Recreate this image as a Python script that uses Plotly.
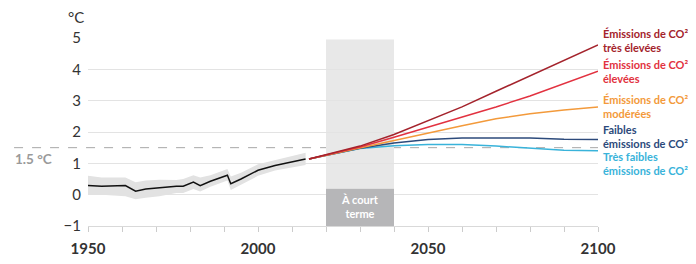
import plotly.graph_objects as go

# Historical observations
hist_years = [1950, 1954, 1961, 1964, 1967, 1971, 1976, 1978, 1981, 1983, 1986, 1991, 1992, 1995, 2000, 2005, 2010, 2014]
hist_vals = [0.29, 0.27, 0.29, 0.11, 0.18, 0.23, 0.27, 0.27, 0.40, 0.29, 0.43, 0.62, 0.35, 0.50, 0.78, 0.93, 1.04, 1.14]
hist_upper = [0.60, 0.55, 0.55, 0.40, 0.45, 0.48, 0.47, 0.50, 0.62, 0.55, 0.62, 0.82, 0.58, 0.70, 0.97, 1.10, 1.22, 1.34]
hist_lower = [0.00, 0.00, -0.05, -0.15, -0.10, -0.05, 0.05, 0.05, 0.18, 0.10, 0.25, 0.45, 0.15, 0.32, 0.60, 0.77, 0.87, 0.95]

# Projections
proj_years = [2015, 2020, 2030, 2040, 2050, 2060, 2070, 2080, 2090, 2100]
very_high = [1.14, 1.27, 1.55, 1.92, 2.35, 2.80, 3.30, 3.80, 4.30, 4.78]
high = [1.14, 1.26, 1.52, 1.83, 2.15, 2.48, 2.80, 3.15, 3.55, 3.94]
moderate = [1.14, 1.26, 1.50, 1.72, 1.97, 2.20, 2.42, 2.58, 2.70, 2.80]
low = [1.14, 1.26, 1.48, 1.65, 1.76, 1.81, 1.81, 1.81, 1.77, 1.76]
very_low = [1.14, 1.26, 1.47, 1.56, 1.60, 1.60, 1.55, 1.49, 1.42, 1.40]

scenario_names = ["Émissions de CO²<br>très élevées", "Émissions de CO²<br>élevées",
                  "Émissions de CO²<br>modérées", "Faibles<br>émissions de CO²",
                  "Très faibles<br>émissions de CO²"]
scenario_colors = ["#a4232c", "#e23240", "#f39a3b", "#2c4a7b", "#39b3da"]
label_y = [4.91, 3.93, 2.81, 1.86, 0.99]

x_tickvals = list(range(1950, 2101, 10))
x_ticktext = [str(v) if v % 50 == 0 else "" for v in x_tickvals]
y_tickvals = [-1, 0, 1, 2, 3, 4, 5]
Y_MIN, Y_MAX = -1, 5

FONT = "Lato, 'Open Sans', sans-serif"

fig = go.Figure()

fig.add_trace(go.Scatter(x=hist_years, y=hist_upper, mode="lines", line=dict(width=0, color="#e2e2e2"),
                         hoverinfo="skip", showlegend=False))
fig.add_trace(go.Scatter(x=hist_years, y=hist_lower, mode="lines", line=dict(width=0, color="#e2e2e2"),
                         fill="tonexty", fillcolor="#e2e2e2", hoverinfo="skip", showlegend=False))
fig.add_trace(go.Scatter(x=hist_years, y=hist_vals, mode="lines", line=dict(width=1.5, color="#111111"),
                         showlegend=False))

series = [very_low, low, moderate, high, very_high]
cols = scenario_colors[::-1]
for vals, c in zip(series, cols):
    fig.add_trace(go.Scatter(x=proj_years, y=vals, mode="lines", line=dict(width=1.5, color=c),
                             showlegend=False))

shapes = [
    dict(type="rect", xref="x", yref="y", x0=2020, x1=2040, y0=0.19, y1=4.95,
         fillcolor="#e8e8e8", line=dict(width=0), layer="below"),
    dict(type="rect", xref="x", yref="y", x0=2020, x1=2040, y0=-1, y1=0.19,
         fillcolor="#b6b6b8", line=dict(width=0), layer="above"),
    dict(type="line", xref="paper", yref="y", x0=-0.145, x1=1.0, y0=1.5, y1=1.5,
         line=dict(color="#a8a8a8", width=1, dash="dash"), layer="between"),
]

annotations = [
    dict(text="°C", xref="paper", yref="paper", x=-0.004, y=1.0, yshift=21, xanchor="right",
         yanchor="middle", showarrow=False, font=dict(family=FONT, size=15, color="#333333")),
    dict(text="<b>1.5 °C</b>", xref="paper", yref="y", x=-0.148, y=1.5, yshift=-11, xanchor="left",
         yanchor="middle", showarrow=False, font=dict(family=FONT, size=13.5, color="#9a9a9a")),
    dict(text="<b>À court<br>terme</b>", xref="x", yref="y", x=2030, y=-0.38, xanchor="center",
         yanchor="middle", showarrow=False, font=dict(family=FONT, size=11, color="#ffffff")),
]
for name, c, ly in zip(scenario_names, scenario_colors, label_y):
    annotations.append(dict(text="<b>" + name + "</b>", xref="paper", yref="paper", x=1.0, xshift=3,
                            y=(ly - Y_MIN) / (Y_MAX - Y_MIN),
                            xanchor="left", yanchor="middle", align="left", showarrow=False,
                            font=dict(family=FONT, size=11, color=c)))

# page body has an 8px margin: shrink the figure so the plot area lands where the reference has it
fig.update_layout(
    width=688, height=256,
    margin=dict(l=80, r=98, t=30, b=38, autoexpand=False),
    paper_bgcolor="white", plot_bgcolor="rgba(0,0,0,0)",
    font=dict(family=FONT, color="#333333"),
    shapes=shapes, annotations=annotations,
    xaxis=dict(range=[1950, 2100], tickvals=x_tickvals, ticktext=x_ticktext, ticks="outside",
               ticklen=5, tickcolor="#cccccc", showgrid=False, zeroline=False, showline=True,
               linecolor="#d9d9d9", linewidth=1, ticklabelstandoff=4,
               tickfont=dict(family=FONT, size=15, color="#333333", weight="bold")),
    yaxis=dict(range=[Y_MIN, Y_MAX], tickvals=y_tickvals, showgrid=True, gridcolor="#e3e3e3", gridwidth=1,
               zeroline=False, showline=False, ticks="", ticklabelstandoff=6,
               tickfont=dict(family=FONT, size=15, color="#333333")),
)

fig.write_html("out.html")
